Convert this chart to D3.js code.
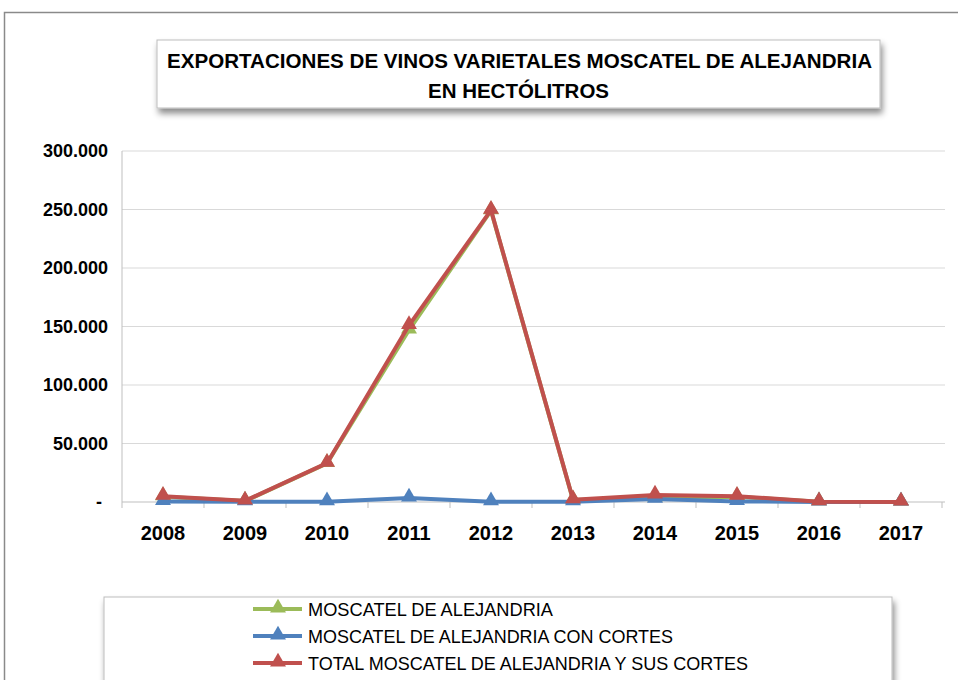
<!DOCTYPE html>
<head>
  <meta charset="utf-8">
  <script src="https://cdn.jsdelivr.net/npm/d3@7"></script>
  <style>
    body { margin: 0; background: #fff; }
    svg { display: block; }
    .y-lbl { font: bold 18px "Liberation Sans", Arial, sans-serif; fill: #000; }
    .x-lbl { font: bold 20px "Liberation Sans", Arial, sans-serif; fill: #000; }
    .title { font: bold 21px "Liberation Sans", Arial, sans-serif; fill: #000; }
    .leg { font: 18px "Liberation Sans", Arial, sans-serif; fill: #000; }
  </style>
</head>
<body>
<script>
var years = ["2008","2009","2010","2011","2012","2013","2014","2015","2016","2017"];
var moscatel = [4500, 800, 33000, 147000, 249000, 1800, 3500, 4500, 200, 100];
var conCortes = [500, 200, 200, 3500, 300, 200, 2500, 500, 100, 0];
var total = [5000, 1000, 33200, 151000, 249500, 2000, 6000, 5000, 300, 100];
var yTicks = [0, 50000, 100000, 150000, 200000, 250000, 300000];
var seriesNames = ["MOSCATEL DE ALEJANDRIA", "MOSCATEL DE ALEJANDRIA CON CORTES", "TOTAL MOSCATEL DE ALEJANDRIA Y SUS CORTES"];
var seriesColors = ["#9BBB59", "#4F81BD", "#C0504D"];
var legendWidths = [245, 365, 440];

var width = 958, height = 680;
var svg = d3.select("body").append("svg")
  .attr("width", width)
  .attr("height", height);

var defs = svg.append("defs");
var f = defs.append("filter").attr("id", "shadow").attr("x", "-5%").attr("y", "-20%").attr("width", "115%").attr("height", "160%");
f.append("feDropShadow").attr("dx", 2).attr("dy", 5).attr("stdDeviation", 3).attr("flood-color", "#000").attr("flood-opacity", 0.45);

// outer chart frame
svg.append("path")
  .attr("d", "M4.5," + height + "V12.5H" + width)
  .attr("fill", "none").attr("stroke", "#8a8a8a").attr("stroke-width", 1.5);

// title box
svg.append("rect").attr("x", 157).attr("y", 40).attr("width", 723).attr("height", 68)
  .attr("fill", "#fff").attr("stroke", "#bdbdbd").attr("filter", "url(#shadow)");
svg.append("text").attr("class", "title").attr("x", 167).attr("y", 68)
  .attr("textLength", 705).attr("lengthAdjust", "spacingAndGlyphs")
  .text("EXPORTACIONES DE VINOS VARIETALES MOSCATEL DE ALEJANDRIA");
svg.append("text").attr("class", "title").attr("x", 428).attr("y", 98)
  .attr("textLength", 181).attr("lengthAdjust", "spacingAndGlyphs")
  .text("EN HECTÓLITROS");

var x = d3.scaleBand().domain(years).range([122, 942]);
var y = d3.scaleLinear().domain([0, 300000]).range([502, 151]);

// gridlines
svg.append("g").selectAll("line").data(yTicks.slice(1)).enter().append("line")
  .attr("x1", 122).attr("x2", 945)
  .attr("y1", d => y(d)).attr("y2", d => y(d))
  .attr("stroke", "#d9d9d9").attr("stroke-width", 1);

// y axis line
svg.append("line").attr("x1", 122).attr("x2", 122).attr("y1", 151).attr("y2", 502)
  .attr("stroke", "#bfbfbf");

var fmt = function(d) {
  return d === 0 ? "-" : d3.format(",")(d).replace(/,/g, ".");
};
svg.append("g").selectAll("text").data(yTicks).enter().append("text")
  .attr("class", "y-lbl")
  .attr("x", d => d === 0 ? 102 : 108)
  .attr("y", d => y(d) + 6)
  .attr("text-anchor", "end")
  .text(fmt);

// x axis
svg.append("line").attr("x1", 122).attr("x2", 945).attr("y1", 502).attr("y2", 502)
  .attr("stroke", "#bfbfbf");
var bounds = years.map(d => x(d)).concat([x.range()[1]]);
svg.append("g").selectAll("line").data(bounds).enter().append("line")
  .attr("x1", d => d).attr("x2", d => d).attr("y1", 502).attr("y2", 508)
  .attr("stroke", "#bfbfbf");
svg.append("g").selectAll("text").data(years).enter().append("text")
  .attr("class", "x-lbl")
  .attr("x", d => x(d) + x.bandwidth() / 2)
  .attr("y", 540)
  .attr("text-anchor", "middle")
  .text(d => d);

// series
var allSeries = [moscatel, conCortes, total];
var line = d3.line()
  .x((d, i) => x(years[i]) + x.bandwidth() / 2)
  .y(d => y(d));
var tri = d3.symbol().type(d3.symbolTriangle).size(110);

allSeries.forEach(function(vals, k) {
  svg.append("path").datum(vals)
    .attr("d", line)
    .attr("fill", "none")
    .attr("stroke", seriesColors[k])
    .attr("stroke-width", 4)
    .attr("stroke-linejoin", "round");
  svg.append("g").selectAll("path").data(vals).enter().append("path")
    .attr("d", tri)
    .attr("transform", (d, i) => "translate(" + (x(years[i]) + x.bandwidth() / 2) + "," + (y(d) - 1) + ")")
    .attr("fill", seriesColors[k]);
});

// legend
svg.append("rect").attr("x", 104).attr("y", 597).attr("width", 788).attr("height", 100)
  .attr("fill", "#fff").attr("stroke", "#bdbdbd").attr("filter", "url(#shadow)");
var leg = svg.append("g").selectAll("g").data(seriesNames).enter().append("g")
  .attr("transform", (d, i) => "translate(0," + (609 + i * 27) + ")");
leg.append("line").attr("x1", 253).attr("x2", 302).attr("y1", 0).attr("y2", 0)
  .attr("stroke", (d, i) => seriesColors[i]).attr("stroke-width", 4);
leg.append("path").attr("d", tri).attr("transform", "translate(278,-1)")
  .attr("fill", (d, i) => seriesColors[i]);
leg.append("text").attr("class", "leg").attr("x", 308).attr("y", 7)
  .attr("textLength", (d, i) => legendWidths[i]).attr("lengthAdjust", "spacingAndGlyphs")
  .text(d => d);
</script>
</body>
